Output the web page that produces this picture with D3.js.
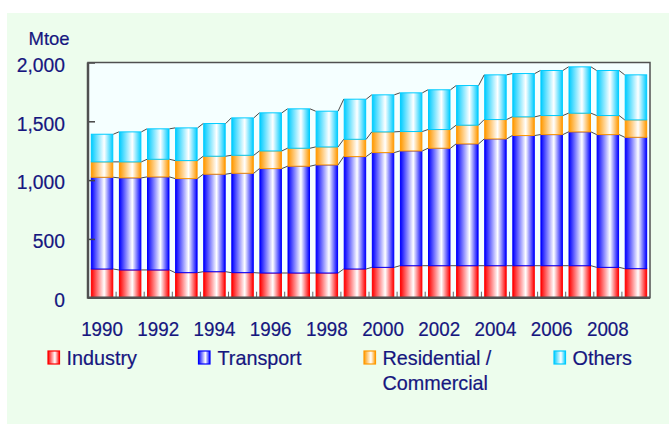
<!DOCTYPE html>
<html>
<head>
<meta charset="utf-8">
<script src="https://cdn.jsdelivr.net/npm/d3@7"></script>
<style>
  html, body { margin: 0; padding: 0; background: #ffffff; }
  svg { display: block; }
  text { font-family: "Liberation Sans", Arial, sans-serif; fill: #16167f; stroke: #16167f; stroke-width: 0.2px; }
</style>
</head>
<body>
<svg id="chart" width="669" height="424"></svg>
<script>
const years = [1990,1991,1992,1993,1994,1995,1996,1997,1998,1999,2000,2001,2002,2003,2004,2005,2006,2007,2008,2009];
const industry    = [244,236,236,213,221,213,210,210,210,244,258,272,272,272,272,272,272,272,258,247];
const transport   = [780,783,791,800,829,845,888,908,919,956,976,976,999,1036,1078,1107,1115,1138,1129,1117];
const residential = [131,136,150,153,153,153,150,153,153,147,176,165,159,159,165,159,162,159,162,148];
const others      = [235,255,259,278,278,318,324,335,304,341,315,329,338,337,380,368,383,394,383,383];
const seriesNames = ["Industry","Transport","Residential / Commercial","Others"];
const yTicks = [0,500,1000,1500,2000];
const xTickLabels = [1990,1992,1994,1996,1998,2000,2002,2004,2006,2008];
const unitLabel = "Mtoe";

const colors = ["#ff0000","#0000ff","#ff9900","#00ccff"];

const svg = d3.select("#chart");
const pL = 88, pR = 650, pT = 62.5, pB = 297.7;

// backgrounds
svg.append("rect").attr("x",7).attr("y",13).attr("width",662).attr("height",411).attr("fill","#edfded");
svg.append("rect").attr("x",pL).attr("y",pT).attr("width",pR-pL).attr("height",pB-pT).attr("fill","#f5ffff");

// gradients
const defs = svg.append("defs");
colors.forEach((c,i)=>{
  const g = defs.append("linearGradient").attr("id","g"+i).attr("x1","0").attr("x2","1").attr("y1","0").attr("y2","0");
  g.append("stop").attr("offset","0").attr("stop-color",c);
  g.append("stop").attr("offset","0.6").attr("stop-color","#ffffff");
  g.append("stop").attr("offset","1").attr("stop-color",c);
});

const x = d3.scaleBand().domain(years).range([pL,pR]).paddingInner(0.2).paddingOuter(0.1);
const y = d3.scaleLinear().domain([0,2000]).range([pB,pT]);

const table = years.map((yr,i)=>({year:yr, s0:industry[i], s1:transport[i], s2:residential[i], s3:others[i]}));
const stack = d3.stack().keys(["s0","s1","s2","s3"])(table);

const bw = x.bandwidth();
stack.forEach((layer,li)=>{
  svg.append("g").selectAll("rect").data(layer).join("rect")
    .attr("x", d=>x(d.data.year)+0.5)
    .attr("y", d=>y(d[1]))
    .attr("width", bw-1)
    .attr("height", d=>y(d[0])-y(d[1]))
    .attr("fill","url(#g"+li+")")
    .attr("stroke",colors[li])
    .attr("stroke-width",1);
});

// series lines
stack.forEach((layer)=>{
  const g = svg.append("g");
  for (let i=0;i<layer.length-1;i++){
    g.append("line")
      .attr("x1", x(layer[i].data.year)+bw)
      .attr("y1", y(layer[i][1]))
      .attr("x2", x(layer[i+1].data.year))
      .attr("y2", y(layer[i+1][1]))
      .attr("stroke","#4a4a4a").attr("stroke-width",1);
  }
});

// x ticks at category boundaries
const step = x.step();
const xt = svg.append("g");
years.slice(0,-1).forEach(yr=>{
  const bx = x(yr) + bw + (step-bw)/2;
  xt.append("line").attr("x1",bx).attr("x2",bx).attr("y1",pB).attr("y2",pB-6)
    .attr("stroke","#666").attr("stroke-width",1);
});

// y axis
const yAxis = d3.axisLeft(y).tickValues(yTicks).tickFormat(d3.format(",")).tickSizeInner(-7).tickSizeOuter(0).tickPadding(23);
const ya = svg.append("g").attr("transform",`translate(${pL},0)`).call(yAxis);
ya.select(".domain").remove();
ya.selectAll(".tick line").attr("stroke","#444").attr("stroke-width",1.5);
ya.selectAll(".tick text").attr("font-size","19.3px").attr("dy","0.46em")
  .attr("font-family","'Liberation Sans', Arial, sans-serif").attr("fill","#16167f")
  .attr("stroke","#16167f").attr("stroke-width",0.2);

// frame
svg.append("rect").attr("x",pL).attr("y",pT).attr("width",pR-pL).attr("height",pB-pT)
  .attr("fill","none").attr("stroke","#505050").attr("stroke-width",1.5);
svg.append("line").attr("x1",pL).attr("x2",pL).attr("y1",pT).attr("y2",pB+1).attr("stroke","#505050").attr("stroke-width",2.5);
svg.append("line").attr("x1",pL).attr("x2",pR).attr("y1",pB).attr("y2",pB).attr("stroke","#505050").attr("stroke-width",2.5);

// x labels
xTickLabels.forEach(yr=>{
  svg.append("text")
    .attr("transform",`translate(${x(yr)+bw/2},335.7) scale(1,1.07)`)
    .attr("text-anchor","middle").attr("font-size","18.8px").text(yr);
});

// unit label
svg.append("text").attr("x",28.5).attr("y",45).attr("font-size","18.5px").text(unitLabel);

// legend
const legendPos = [{sx:47.5, tx:66.5}, {sx:198, tx:217.5}, {sx:363.5, tx:382.5}, {sx:553.5, tx:572.5}];
seriesNames.forEach((name,i)=>{
  const p = legendPos[i];
  svg.append("rect").attr("x",p.sx+0.5).attr("y",351).attr("width",11.5).attr("height",13)
    .attr("fill","url(#g"+i+")").attr("stroke",colors[i]).attr("stroke-width",1.2);
  const lines = name === "Residential / Commercial" ? ["Residential /","Commercial"] : [name];
  lines.forEach((ln,k)=>{
    svg.append("text")
      .attr("x",p.tx).attr("y",364.5 + k*25)
      .attr("font-size","19.8px").text(ln);
  });
});
</script>
</body>
</html>
